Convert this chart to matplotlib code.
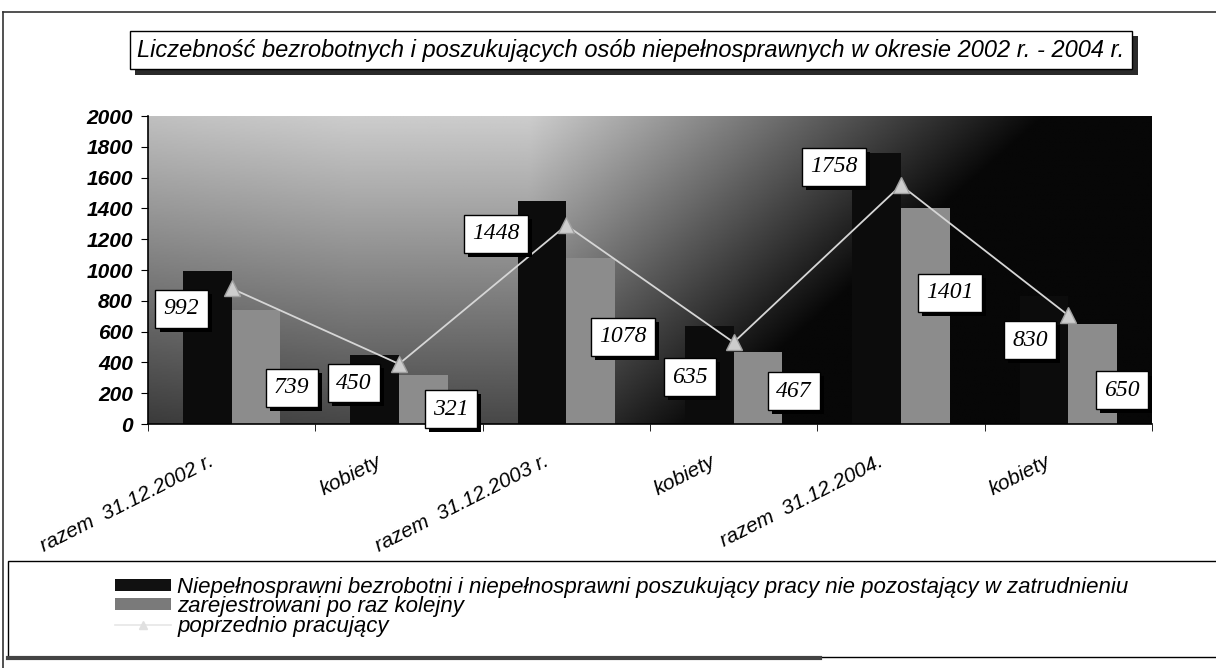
"""Liczebność bezrobotnych i poszukujących osób niepełnosprawnych 2002-2004"""
import matplotlib; matplotlib.use('Agg')
import matplotlib.pyplot as plt; import numpy as np
import matplotlib.patheffects as pe
from matplotlib.patches import Rectangle, Patch
from matplotlib.lines import Line2D

plt.rcParams['font.family'] = ['Liberation Sans', 'DejaVu Sans']

categories = ['razem  31.12.2002 r.', 'kobiety', 'razem  31.12.2003 r.', 'kobiety', 'razem  31.12.2004.', 'kobiety']
bezrobotni = [992, 450, 1448, 635, 1758, 830]
kolejny = [739, 321, 1078, 467, 1401, 650]
pracujacy = [880, 390, 1290, 530, 1550, 705]
yticks = list(range(0, 2001, 200))
series_names = ['Niepełnosprawni bezrobotni i niepełnosprawni poszukujący pracy nie pozostający w zatrudnieniu',
                'zarejestrowani po raz kolejny', 'poprzednio pracujący']
title = 'Liczebność bezrobotnych i poszukujących osób niepełnosprawnych w okresie 2002 r. - 2004 r.'

# where the value boxes sit (offset from category centre, height on the y scale)
lab_dx_dark = [-0.30, -0.27, -0.42, -0.26, -0.40, -0.23]
lab_y_dark = [747, 266, 1234, 305, 1669, 545]
lab_dx_gray = [0.36, 0.31, 0.34, 0.36, 0.29, 0.32]
lab_y_gray = [234, 97, 565, 214, 851, 220]

W, H = 1216, 668
fig = plt.figure(figsize=(W/100, H/100), dpi=100)
def fr(x, y, w, h): return (x/W, 1-(y+h)/H, w/W, h/H)  # pixel box (top origin) -> figure fraction

# outer frame
fig.add_artist(Line2D([3/W, 1], [1-12/H]*2, color='#333333', lw=1.2, transform=fig.transFigure))
fig.add_artist(Line2D([3/W]*2, [0, 1-12/H], color='#333333', lw=1.2, transform=fig.transFigure))

ax = fig.add_axes(fr(148, 116, 1004, 308))
x = np.arange(len(categories))
ax.set_xlim(-0.5, 5.5); ax.set_ylim(0, 2000)

# shaded background
u = np.linspace(0, 1, 400); w = np.linspace(1, 0, 200)
U, Wg = np.meshgrid(u, w)
bg = 0.80 - 0.52*(1-Wg) - 1.5*np.clip(U-0.38, 0, None) - 0.25*np.clip(0.2-U, 0, None)
bg = np.clip(bg, 0.03, 1)
ax.imshow(bg, extent=[-0.5, 5.5, 0, 2000], aspect='auto', cmap='gray', vmin=0, vmax=1, zorder=0, interpolation='bilinear')

bw = 0.29
ax.bar(x-0.145, bezrobotni, bw, color='#0c0c0c', zorder=2)
ax.bar(x+0.145, kolejny, bw, color='#8c8c8c', zorder=2)
ax.plot(x, pracujacy, color='#d6d6d6', lw=1.3, marker='^', ms=11, mfc='#cdcdcd', mec='#a0a0a0', zorder=3)

shadow = [pe.withSimplePatchShadow(offset=(3, -3), shadow_rgbFace='black', alpha=1)]
for i in range(len(categories)):
    for dx, yy, val in [(lab_dx_dark[i], lab_y_dark[i], bezrobotni[i]), (lab_dx_gray[i], lab_y_gray[i], kolejny[i])]:
        t = ax.text(x[i]+dx, yy, str(val), ha='center', va='center', fontsize=17, style='italic',
                    family=['Liberation Serif', 'DejaVu Serif'], zorder=5, clip_on=False,
                    bbox=dict(boxstyle='square,pad=0.35', fc='white', ec='black', lw=1))
        t.get_bbox_patch().set_path_effects(shadow)

ax.set_yticks(yticks)
ax.set_yticklabels([str(t) for t in yticks], fontsize=15, fontweight='bold', style='italic')
# category labels hang a little left of the category centre
ax.set_xticks(x-0.14)
ax.set_xticklabels(categories, rotation=27, ha='right', va='top', rotation_mode='anchor', fontsize=15, style='italic')
ax.set_xticks(np.arange(-0.5, 6, 1), minor=True)
ax.tick_params(axis='x', which='major', length=0, pad=20)
ax.tick_params(axis='x', which='minor', length=5, direction='out')
ax.tick_params(axis='y', length=5, direction='out', pad=6)
for s in ['top', 'right']: ax.spines[s].set_visible(False)
for s in ['left', 'bottom']: ax.spines[s].set_linewidth(1.2)

# title box with shadow
tt = fig.text(631/W, 1-50/H, title, ha='center', va='center', fontsize=17, style='italic',
              bbox=dict(boxstyle='square,pad=0.32', fc='white', ec='black', lw=1))
tt.get_bbox_patch().set_path_effects([pe.withSimplePatchShadow(offset=(4, -4), shadow_rgbFace='#2a2a2a', alpha=1)])

# legend frame
fig.add_artist(Rectangle(fr(8, 561, 1210, 96)[:2], 1210/W, 96/H, transform=fig.transFigure, fc='none', ec='black', lw=1))
fig.add_artist(Line2D([8/W, 820/W], [1-658/H]*2, color='#444444', lw=3, transform=fig.transFigure))
handles = [Patch(fc='#111111', ec='none'), Patch(fc='#7a7a7a', ec='none'),
           Line2D([], [], color='#e6e6e6', lw=1.2, marker='^', ms=6, mfc='#e0e0e0', mec='#e0e0e0')]
fig.legend(handles, series_names, loc='upper left', bbox_to_anchor=(104/W, 1-566/H), frameon=False,
           prop=dict(size=16, style='italic'), handlelength=2.5, handleheight=0.45, labelspacing=-0.08,
           handletextpad=0.3, borderpad=0)

fig.savefig('out.png', dpi=100)
